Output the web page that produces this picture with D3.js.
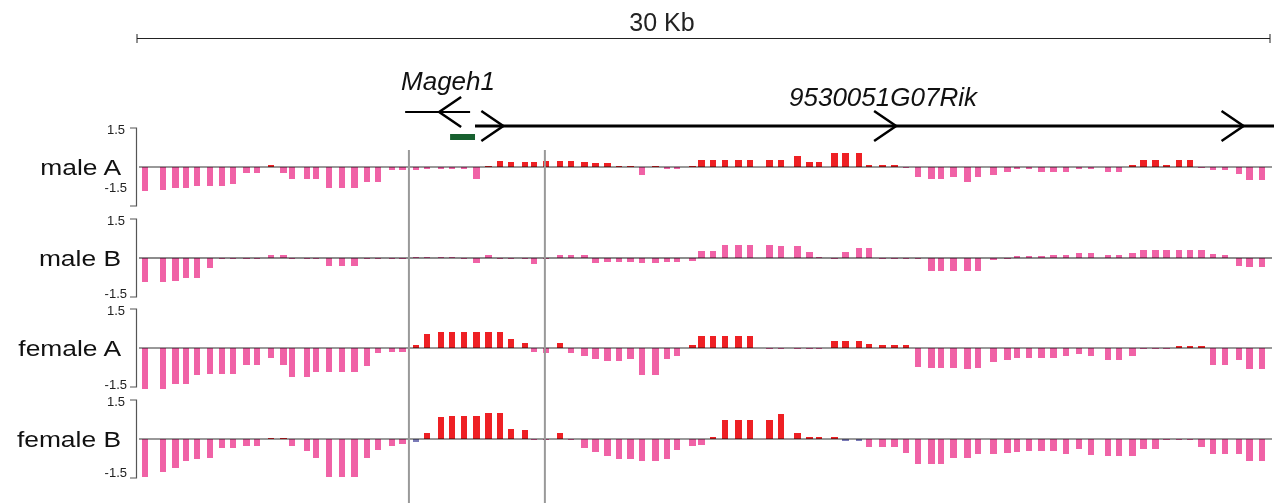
<!DOCTYPE html>
<html>
<head>
<meta charset="utf-8">
<script src="https://cdn.jsdelivr.net/npm/d3@7"></script>
<style>
  body { margin: 0; background: #fff; }
  text { font-family: Arial, "Liberation Sans", sans-serif; }
</style>
</head>
<body>
<svg id="chart" width="1274" height="503"></svg>
<script>
// Probe start positions along the locus (kb)
const probeStarts = [
  0.13,0.61,0.93,1.22,1.51,1.85,2.17,2.46,2.81,3.10,
  3.47,3.79,4.02,4.42,4.66,5.00,5.35,5.67,6.01,6.30,
  6.67,6.94,7.31,7.60,7.97,8.26,8.58,8.90,9.22,9.53,
  9.82,10.19,10.43,10.75,11.12,11.41,11.76,12.05,12.37,12.68,
  12.98,13.29,13.64,13.95,14.22,14.62,14.86,15.17,15.49,15.84,
  16.15,16.66,16.97,17.40,17.72,17.98,18.38,18.67,19.04,19.30,
  19.65,19.97,20.28,20.60,20.95,21.21,21.53,21.90,22.19,22.59,
  22.96,23.22,23.54,23.86,24.18,24.52,24.86,25.18,25.63,25.92,
  26.27,26.56,26.88,27.17,27.51,27.80,28.10,28.41,28.73,29.10,
  29.37,29.71
];
const probeLength = 0.17; // kb

// log2 ratios per probe
const maleA = [
  -0.92,-0.88,-0.81,-0.81,-0.73,-0.73,-0.73,-0.65,-0.23,-0.23,
  0.08,-0.23,-0.46,-0.46,-0.46,-0.81,-0.81,-0.81,-0.58,-0.58,
  -0.12,-0.12,-0.12,-0.08,-0.08,-0.08,-0.08,-0.46,0.04,0.23,
  0.19,0.19,0.19,0.23,0.23,0.23,0.19,0.15,0.15,0.04,
  0.04,-0.31,0.04,-0.08,-0.08,0.04,0.27,0.27,0.27,0.27,
  0.27,0.27,0.27,0.42,0.19,0.19,0.54,0.54,0.54,0.08,
  0.08,0.08,0,-0.38,-0.46,-0.46,-0.38,-0.58,-0.38,-0.31,
  -0.19,-0.08,-0.08,-0.19,-0.19,-0.19,-0.08,-0.08,-0.19,-0.19,
  0.08,0.27,0.27,0.08,0.27,0.27,0,-0.12,-0.12,-0.27,
  -0.5,-0.5
];
const maleB = [
  -0.93,-0.93,-0.9,-0.78,-0.78,-0.4,-0.03,-0.03,-0.03,-0.03,
  0.1,0.1,-0.03,-0.03,-0.03,-0.32,-0.32,-0.32,-0.03,-0.03,
  -0.03,-0.03,0.03,0.03,0.03,0.03,-0.03,-0.2,0.1,-0.03,
  -0.03,-0.03,-0.24,-0.03,0.1,0.1,0.1,-0.2,-0.16,-0.16,
  -0.16,-0.2,-0.2,-0.16,-0.16,-0.12,0.26,0.26,0.5,0.5,
  0.5,0.5,0.45,0.45,0.22,0.03,-0.03,0.22,0.38,0.38,
  -0.03,-0.03,-0.03,-0.03,-0.51,-0.51,-0.51,-0.51,-0.51,-0.08,
  -0.03,0.07,0.07,0.07,0.1,0.1,0.18,0.18,0.1,0.1,
  0.18,0.3,0.3,0.3,0.3,0.3,0.3,0.14,0.1,-0.32,
  -0.35,-0.35
];
const femaleA = [
  -1.58,-1.58,-1.37,-1.37,-1.03,-0.99,-0.99,-0.99,-0.64,-0.64,
  -0.37,-0.64,-1.1,-1.1,-0.91,-0.91,-0.91,-0.91,-0.68,-0.18,
  -0.14,-0.14,0.13,0.55,0.63,0.63,0.63,0.63,0.63,0.63,
  0.36,0.2,-0.14,-0.18,0.2,-0.18,-0.3,-0.41,-0.49,-0.49,
  -0.41,-1.03,-1.03,-0.41,-0.3,0.13,0.47,0.47,0.47,0.47,
  0.47,-0.02,-0.02,-0.02,-0.02,-0.02,0.28,0.28,0.28,0.17,
  0.13,0.13,0.13,-0.72,-0.76,-0.76,-0.76,-0.8,-0.76,-0.53,
  -0.45,-0.37,-0.37,-0.37,-0.37,-0.3,-0.22,-0.3,-0.45,-0.45,
  -0.3,-0.02,-0.02,-0.02,0.09,0.09,0.09,-0.64,-0.64,-0.45,
  -0.8,-0.8
];
const femaleB = [
  -1.46,-1.27,-1.12,-0.85,-0.77,-0.73,-0.35,-0.35,-0.27,-0.27,
  0.03,0.03,-0.27,-0.46,-0.73,-1.46,-1.46,-1.46,-0.73,-0.42,
  -0.27,-0.19,-0.12,0.23,0.85,0.88,0.88,0.88,1.0,1.0,
  0.38,0.35,0,0,0.23,-0.02,-0.35,-0.5,-0.65,-0.77,
  -0.77,-0.85,-0.85,-0.77,-0.42,-0.27,-0.23,0.08,0.73,0.73,
  0.73,0.73,0.96,0.23,0.08,0.08,0.08,-0.08,-0.08,-0.31,
  -0.31,-0.31,-0.54,-0.96,-0.96,-0.96,-0.73,-0.73,-0.58,-0.58,
  -0.54,-0.5,-0.46,-0.46,-0.46,-0.58,-0.38,-0.62,-0.65,-0.65,
  -0.65,-0.38,-0.38,-0.02,0,-0.02,-0.31,-0.58,-0.58,-0.58,
  -0.85,-0.85
];
// probes flagged as low signal in female B
const femaleBLowSignal = [22, 57, 58];

const trackNames = ["male A", "male B", "female A", "female B"];
const tickLabels = ["1.5", "-1.5"];
const yDomain = [-1.5, 1.5];

// gene models (kb)
const geneNames = ["Mageh1", "9530051G07Rik"];
const geneStarts = [7.10, 8.95];
const geneEnds = [8.82, 30.2];
const geneStrands = [-1, 1];
const geneChevrons = [[8.0], [9.7, 20.1, 29.3]];
const markerRegion = [8.29, 8.95];
const regionBounds = [7.20, 10.80];
const scaleBarLabel = "30 Kb";
const scaleBarSpan = [0, 30];

const svg = d3.select("#chart");
const x = d3.scaleLinear().domain([0, 30]).range([137, 1270]);

// scale bar
const sb = svg.append("g");
sb.append("text").attr("x", 662).attr("y", 31)
  .attr("text-anchor", "middle").attr("font-size", 25).attr("fill", "#222").text(scaleBarLabel);
sb.append("line").attr("x1", x(scaleBarSpan[0])).attr("x2", x(scaleBarSpan[1]))
  .attr("y1", 38.5).attr("y2", 38.5).attr("stroke", "#222").attr("stroke-width", 1);
scaleBarSpan.forEach(v => sb.append("line").attr("x1", x(v)).attr("x2", x(v))
  .attr("y1", 34).attr("y2", 43).attr("stroke", "#222").attr("stroke-width", 1));

// genes
const geneY = [112, 126];
const gg = svg.append("g").attr("stroke", "#000").attr("fill", "none");
geneNames.forEach((name, i) => {
  const y = geneY[i];
  gg.append("line").attr("x1", x(geneStarts[i])).attr("x2", x(geneEnds[i]))
    .attr("y1", y).attr("y2", y).attr("stroke-width", i === 0 ? 2 : 3);
  geneChevrons[i].forEach(c => {
    const cx = x(c), d = 22 * geneStrands[i];
    gg.append("polyline")
      .attr("points", `${cx - d},${y - 15} ${cx},${y} ${cx - d},${y + 15}`)
      .attr("stroke-width", 2.5);
  });
});
svg.append("text").attr("x", 448).attr("y", 90).attr("text-anchor", "middle")
  .attr("font-size", 26).attr("font-style", "italic").attr("fill", "#111").text(geneNames[0]);
svg.append("text").attr("x", 883).attr("y", 106).attr("text-anchor", "middle")
  .attr("font-size", 26).attr("font-style", "italic").attr("fill", "#111").text(geneNames[1]);
svg.append("rect").attr("x", x(markerRegion[0])).attr("y", 134)
  .attr("width", x(markerRegion[1]) - x(markerRegion[0])).attr("height", 6).attr("fill", "#17602f");

// tracks
const tracks = [
  { name: trackNames[0], values: maleA, zero: 167, posColor: "#ee2024", baseline: "dark", lowLabel: 20 },
  { name: trackNames[1], values: maleB, zero: 258, posColor: "#f062a6", baseline: "gray", lowLabel: 35 },
  { name: trackNames[2], values: femaleA, zero: 348, posColor: "#ee2024", baseline: "dark", lowLabel: 36 },
  { name: trackNames[3], values: femaleB, zero: 439, posColor: "#ee2024", baseline: "dark", lowLabel: 33, low: femaleBLowSignal }
];
const negColor = "#f062a6";
const lowColor = "#7b7bb8";

tracks.forEach(t => {
  const y = d3.scaleLinear().domain(yDomain).range([t.zero + 39, t.zero - 39]);
  const g = svg.append("g");
  // track label
  g.append("text").attr("transform", `translate(121,${t.zero + 8}) scale(1.2,1)`)
    .attr("text-anchor", "end").attr("font-size", 22).attr("fill", "#111").text(t.name);
  // axis bracket
  const ax = g.append("g").attr("stroke", "#555").attr("stroke-width", 1.2).attr("fill", "none");
  ax.append("polyline").attr("points",
    `130,${y(1.5)} 136.5,${y(1.5)} 136.5,${y(-1.5)} 130,${y(-1.5)}`);
  g.append("text").attr("x", 125).attr("y", y(1.5) + 6).attr("text-anchor", "end")
    .attr("font-size", 13).attr("fill", "#222").text(tickLabels[0]);
  g.append("text").attr("x", 127).attr("y", t.zero + t.lowLabel + 5).attr("text-anchor", "end")
    .attr("font-size", 13).attr("fill", "#222").text(tickLabels[1]);

  g.append("g").attr("shape-rendering", "crispEdges").selectAll("rect")
    .data(t.values).join("rect")
    .attr("x", (d, i) => x(probeStarts[i]))
    .attr("width", (d, i) => x(probeStarts[i] + probeLength) - x(probeStarts[i]))
    .attr("y", d => Math.min(y(d), y(0)))
    .attr("height", d => Math.max(Math.abs(y(d) - y(0)), 1))
    .attr("fill", (d, i) => (t.low && t.low.includes(i)) ? lowColor : (d > 0 ? t.posColor : negColor));

  const bl = g.append("g").style("mix-blend-mode", "multiply");
  if (t.baseline === "gray") {
    bl.append("line").attr("x1", 139).attr("x2", 1272).attr("y1", y(0)).attr("y2", y(0))
      .attr("stroke", "#8c8c8c").attr("stroke-width", 2);
  } else {
    bl.append("line").attr("x1", 139).attr("x2", 1272).attr("y1", y(0)).attr("y2", y(0))
      .attr("stroke", "#333").attr("stroke-width", 1);
  }
});

// region boundaries
svg.append("g").selectAll("line").data(regionBounds).join("line")
  .attr("x1", d => x(d)).attr("x2", d => x(d)).attr("y1", 150).attr("y2", 503)
  .attr("stroke", "#999").attr("stroke-width", 2);
</script>
</body>
</html>
